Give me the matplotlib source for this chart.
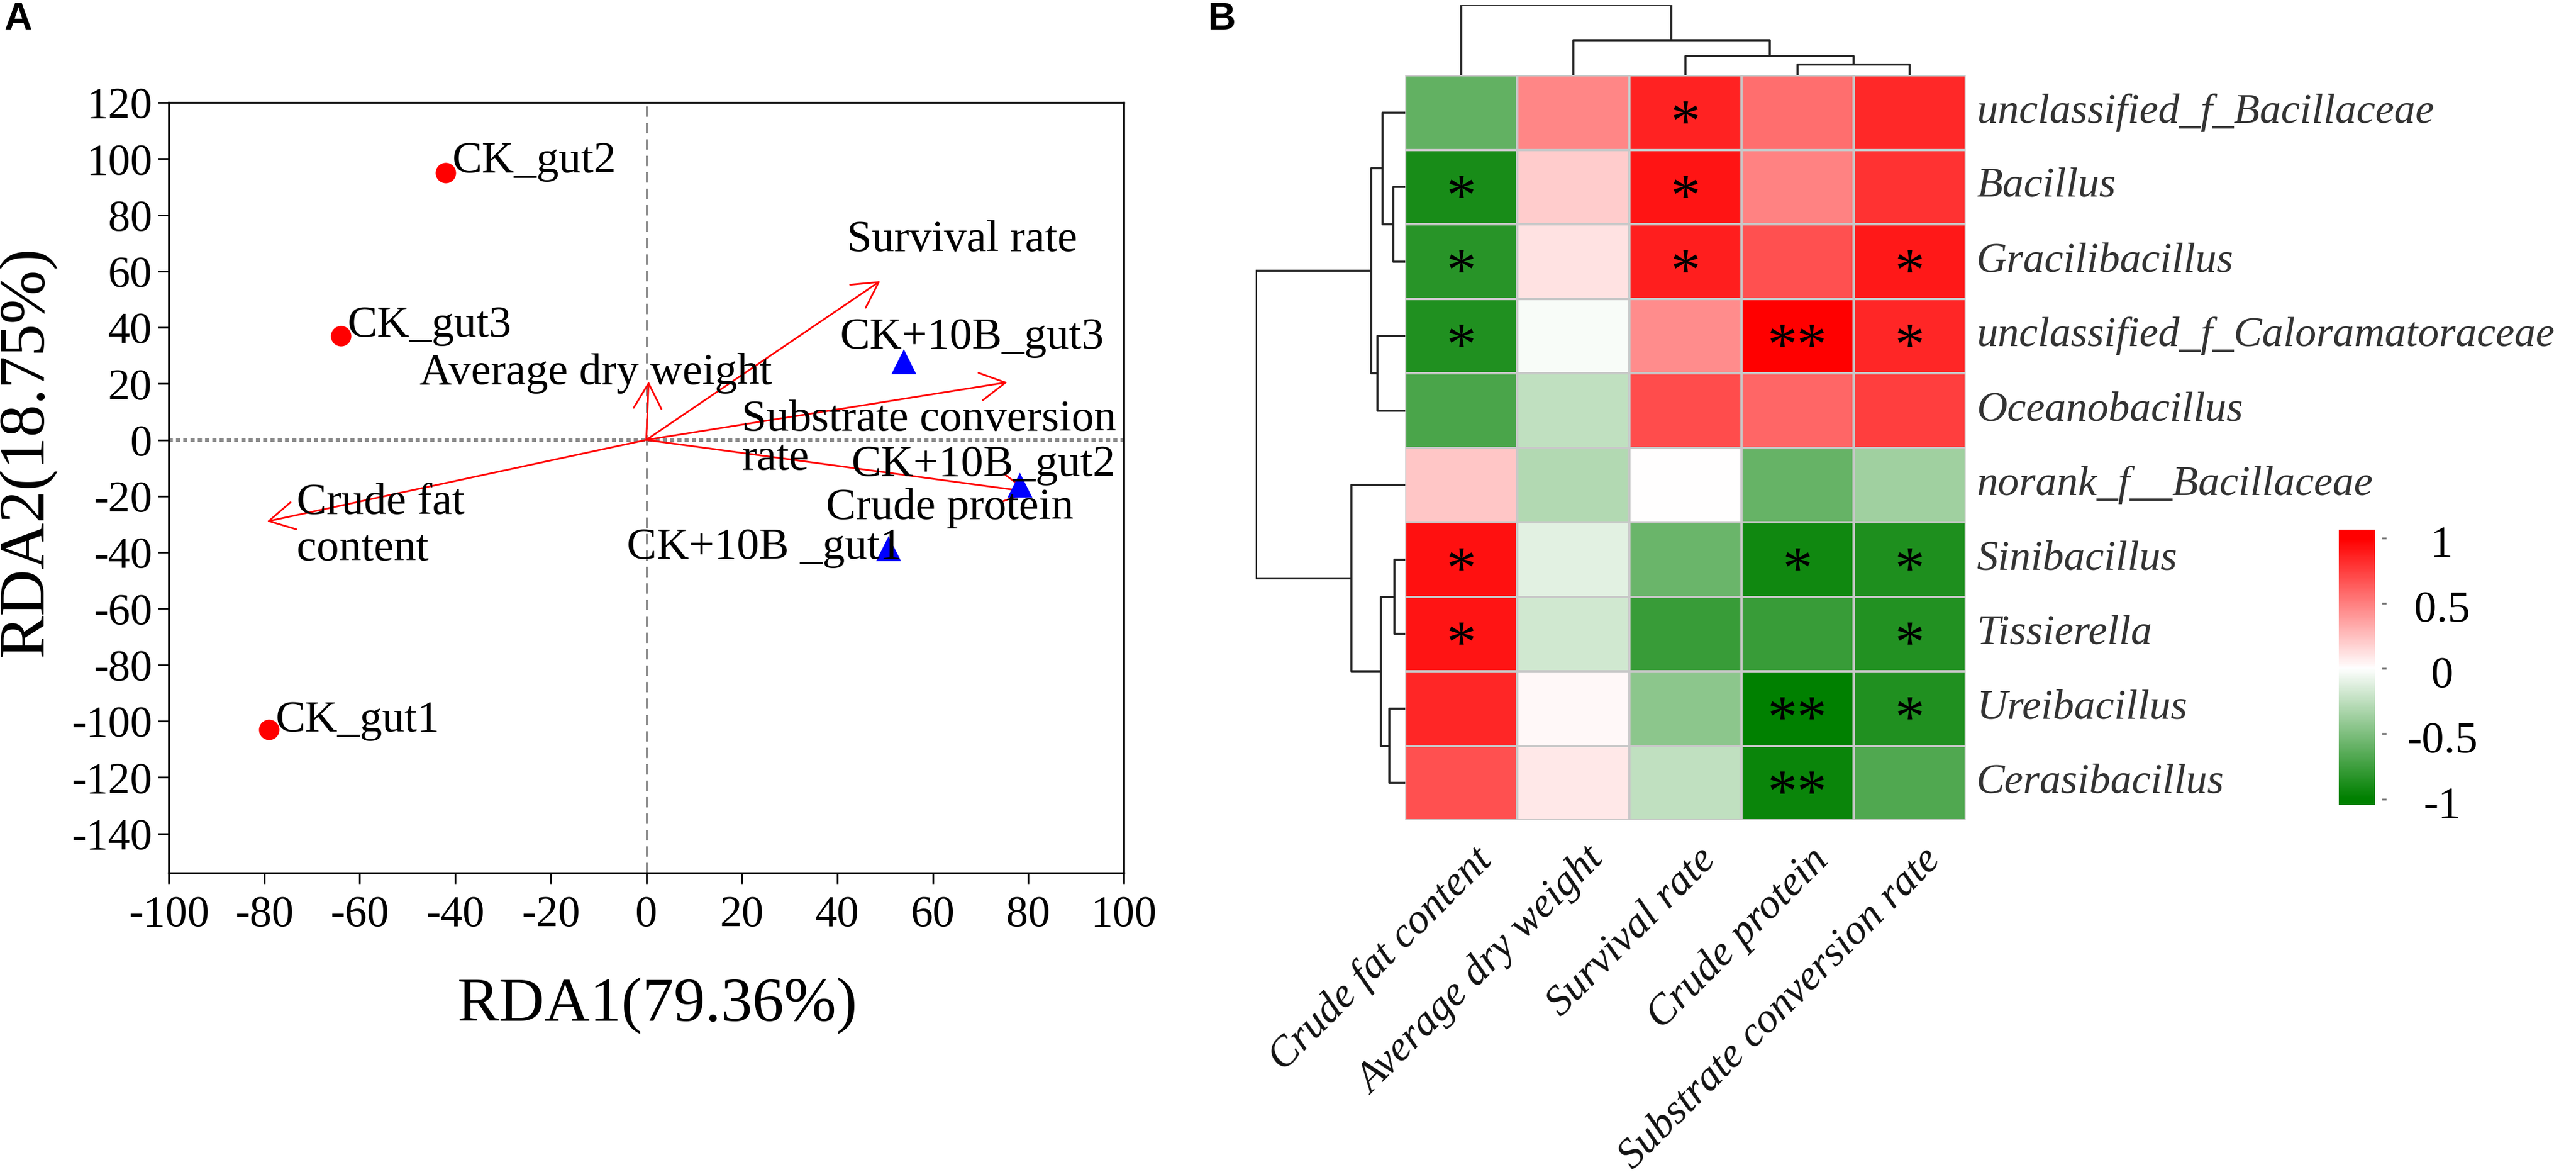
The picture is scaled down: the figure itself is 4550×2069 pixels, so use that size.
import matplotlib
matplotlib.use('Agg')
import matplotlib.pyplot as plt
import numpy as np
from matplotlib.colors import LinearSegmentedColormap

plt.rcParams['font.family'] = ['Liberation Serif', 'DejaVu Serif']
plt.rcParams['axes.unicode_minus'] = False

# ---- panel A: RDA ----
samples = ['CK_gut1', 'CK_gut2', 'CK_gut3', 'CK+10B _gut1', 'CK+10B_gut2', 'CK+10B_gut3']
groups = ['CK', 'CK', 'CK', 'CK+10B', 'CK+10B', 'CK+10B']
rda1 = [-79, -42, -64, 50.7, 78.2, 53.9]
rda2 = [-103, 95, 37, -38.5, -16, 28]
sample_lab_x = [-77.6, -40.6, -62.6, -4.1, 42.9, 40.6]
sample_lab_y = [-99.8, 99, 40.5, -38.5, -8.9, 36.3]

env = ['Survival rate', 'Average dry weight', 'Substrate conversion\nrate',
       'Crude protein', 'Crude fat\ncontent']
env_rda1 = [49, 0.5, 75.6, 80.3, -79.4]
env_rda2 = [56.5, 20.8, 20.5, -18.5, -29]
env_lab_x = [42, -47.5, 20, 37.7, -73.2]
env_lab_y = [71, 23.6, 0.25, -24.4, -30.7]
env_linesp = [1.2, 1.2, 0.95, 1.2, 1.2]

# ---- panel B: correlation heatmap ----
genera = ['unclassified_f_Bacillaceae', 'Bacillus', 'Gracilibacillus',
          'unclassified_f_Caloramatoraceae', 'Oceanobacillus', 'norank_f__Bacillaceae',
          'Sinibacillus', 'Tissierella', 'Ureibacillus', 'Cerasibacillus']
traits = ['Crude fat content', 'Average dry weight', 'Survival rate',
          'Crude protein', 'Substrate conversion rate']
corr = [
    [-0.61, 0.47, 0.86, 0.57, 0.84],
    [-0.90, 0.20, 0.92, 0.49, 0.80],
    [-0.84, 0.11, 0.88, 0.68, 0.90],
    [-0.87, -0.03, 0.45, 1.00, 0.85],
    [-0.71, -0.25, 0.70, 0.60, 0.75],
    [0.22, -0.30, 0.00, -0.60, -0.37],
    [0.93, -0.11, -0.58, -0.93, -0.88],
    [0.92, -0.18, -0.78, -0.78, -0.86],
    [0.85, 0.03, -0.45, -1.00, -0.87],
    [0.68, 0.09, -0.25, -0.96, -0.68],
]
stars = [
    ['', '', '*', '', ''],
    ['*', '', '*', '', ''],
    ['*', '', '*', '', '*'],
    ['*', '', '', '**', '*'],
    ['', '', '', '', ''],
    ['', '', '', '', ''],
    ['*', '', '', '*', '*'],
    ['*', '', '', '', '*'],
    ['', '', '', '**', '*'],
    ['', '', '', '**', ''],
]
# linkage: (child a, child b, height); leaves are row / column positions
row_merges = [(1, 2, 21), (0, 10, 40), (3, 4, 49), (11, 12, 60), (6, 7, 19),
              (8, 9, 28), (14, 15, 43), (5, 16, 95), (13, 17, 264)]
col_merges = [(3, 4, 18.7), (2, 5, 33.7), (1, 6, 62.3), (0, 7, 123.7)]
cbar_ticks = [1, 0.5, 0, -0.5, -1]

W, H = 4550, 2069
fig = plt.figure(figsize=(W / 200, H / 200), dpi=200)


def rect(l, t, r, b):
    return [l / W, 1 - b / H, (r - l) / W, (b - t) / H]


# ---------------- A ----------------
ax = fig.add_axes(rect(298, 181, 1985, 1541))
ax.set_xlim(-100, 100)
ax.set_ylim(-154, 120)
ax.axvline(0, color='#7a7a7a', lw=1.1, ls=(0, (6, 3.5)), zorder=1)
ax.axhline(0, color='#8a8a8a', lw=2.2, ls=(0, (1.2, 0.9)), zorder=1)

for x, y, lab in zip(env_rda1, env_rda2, env):
    ax.annotate('', xy=(x, y), xytext=(0, 0),
                arrowprops=dict(arrowstyle='->,head_length=0.4,head_width=0.22',
                                color='#ff0000', lw=1.1, mutation_scale=40,
                                shrinkA=0, shrinkB=0), zorder=2)
for lab, tx, ty, ls in zip(env, env_lab_x, env_lab_y, env_linesp):
    ax.text(tx, ty, lab, fontsize=28.5, ha='left', va='center', linespacing=ls, zorder=4)

for x, y, g in zip(rda1, rda2, groups):
    if g == 'CK':
        ax.plot(x, y, 'o', color='#ff0000', ms=13, mec='none', zorder=3)
    else:
        ax.plot(x, y, '^', color='#0000ff', ms=16, mec='none', zorder=3)
for lab, tx, ty in zip(samples, sample_lab_x, sample_lab_y):
    ax.text(tx, ty, lab, fontsize=28.5, ha='left', va='center', zorder=4)

ax.set_xticks(range(-100, 101, 20))
ax.set_yticks(range(-140, 121, 20))
ax.tick_params(axis='both', direction='out', length=6.8, width=1.1, labelsize=28)
ax.tick_params(axis='x', pad=7.5)
ax.tick_params(axis='y', pad=3.7)
for s in ax.spines.values():
    s.set_linewidth(1.2)
fig.text(1161 / W, 1 - 1776 / H, 'RDA1(79.36%)', fontsize=40, ha='center', va='center')
fig.text(47 / W, 1 - 797 / H, 'RDA2(18.75%)', fontsize=41, ha='center', va='center',
         rotation=90)

# ---------------- B ----------------
cmap = LinearSegmentedColormap.from_list('gwr', ['#008000', '#ffffff', '#ff0000'])
hx = fig.add_axes(rect(2482, 133, 3472, 1448))
data = np.array(corr)
hx.pcolormesh(data, cmap=cmap, vmin=-1, vmax=1, edgecolors='#c8c8c8', linewidth=1.3)
hx.set_xlim(0, len(traits))
hx.set_ylim(len(genera), 0)
hx.axis('off')
for i, row in enumerate(stars):
    for j, s in enumerate(row):
        if s:
            hx.text(j + 0.5, i + 0.5 + 0.38, s, fontsize=38, ha='center', va='baseline',
                    color='black')
for i, g in enumerate(genera):
    hx.text(len(traits) + 0.096, i + 0.5, g, fontsize=27, style='italic',
            color='#333333', ha='left', va='center', clip_on=False)
for j, t in enumerate(traits):
    hx.text(j + 0.6, len(genera) + 0.28, t, fontsize=27, style='italic',
            color='#111111', rotation=45, ha='right', va='top',
            rotation_mode='anchor', clip_on=False)


def draw_dendro(axd, merges, n, orient):
    pos = {i: i + 0.5 for i in range(n)}
    hgt = {i: 0.0 for i in range(n)}
    for k, (a, b, h) in enumerate(merges):
        node = n + k
        xs = [hgt[a], h, h, hgt[b]]
        ys = [pos[a], pos[a], pos[b], pos[b]]
        if orient == 'top':
            axd.plot(ys, xs, color='#222222', lw=1.3, solid_capstyle='butt')
        else:
            axd.plot(xs, ys, color='#222222', lw=1.3, solid_capstyle='butt')
        pos[node] = (pos[a] + pos[b]) / 2
        hgt[node] = h


cx = fig.add_axes(rect(2482, 9, 3472, 133))
draw_dendro(cx, col_merges, len(traits), 'top')
cx.set_xlim(0, len(traits))
cx.set_ylim(0, col_merges[-1][2])
cx.axis('off')

rx = fig.add_axes(rect(2218, 133, 2482, 1448))
draw_dendro(rx, row_merges, len(genera), 'left')
rx.set_xlim(row_merges[-1][2], 0)
rx.set_ylim(len(genera), 0)
rx.axis('off')

# colour key
kx = fig.add_axes(rect(4131, 935, 4215, 1421))
lo, hi = -1.045, 1.063
grad = np.linspace(lo, hi, 300).reshape(-1, 1)
kx.imshow(grad, cmap=cmap, vmin=-1, vmax=1, origin='lower', aspect='auto',
          extent=(0, 64 / 84, lo, hi))
kx.set_xlim(0, 1)
kx.set_ylim(lo, hi)
kx.set_xticks([])
kx.yaxis.tick_right()
kx.set_yticks(cbar_ticks)
kx.set_yticklabels([])
kx.tick_params(axis='y', direction='in', length=2.9, width=1.2, color='#777777')
for s in kx.spines.values():
    s.set_visible(False)
for t in cbar_ticks:
    kx.text(2.17, t - 0.06, '%g' % t, fontsize=28.5, ha='center', va='center',
            transform=kx.transData, clip_on=False)

fig.text(7 / W, 1 - 2 / H, 'A', fontsize=24.5, fontweight='bold',
         family='Liberation Sans', ha='left', va='top')
fig.text(2134 / W, 1 - 2 / H, 'B', fontsize=24.5, fontweight='bold',
         family='Liberation Sans', ha='left', va='top')

fig.savefig('out.png', dpi=200, facecolor='white')
